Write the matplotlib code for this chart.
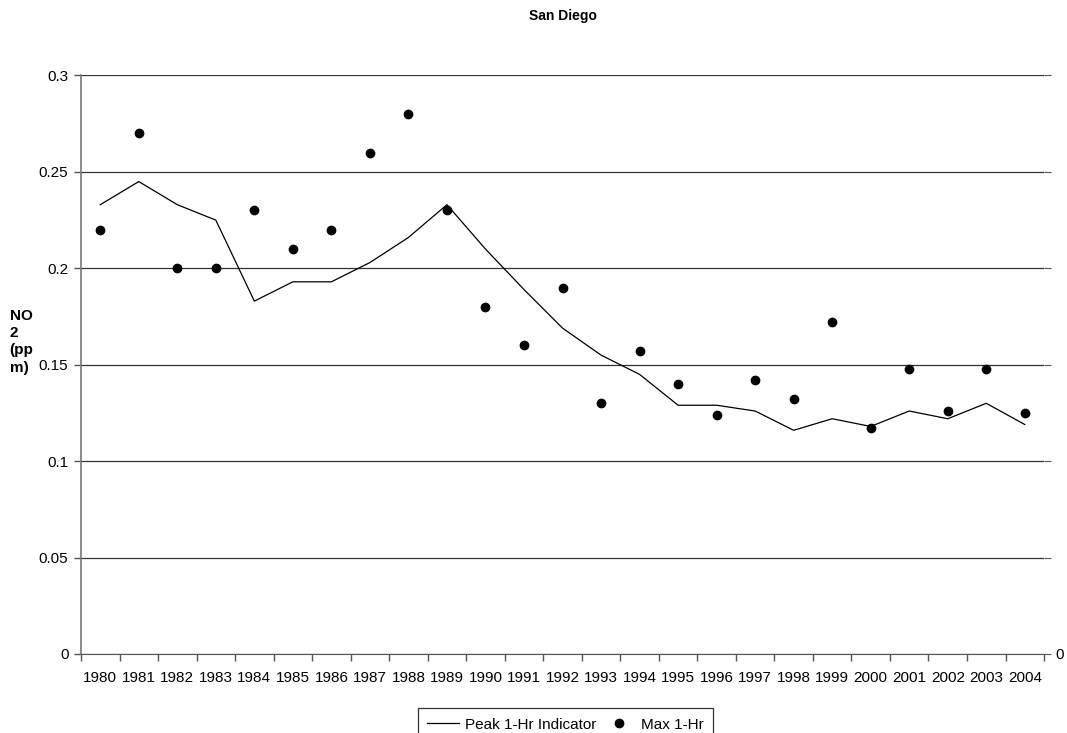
import numpy as np
from matplotlib import pyplot as plt

plt.rcParams['font.family'] = ['Liberation Sans', 'DejaVu Sans']

# data
years = [str(y) for y in range(1980, 2005)]
peak_indicator = [0.233, 0.245, 0.233, 0.225, 0.183, 0.193, 0.193, 0.203, 0.216, 0.233,
                  0.210, 0.189, 0.169, 0.155, 0.145, 0.129, 0.129, 0.126, 0.116, 0.122,
                  0.118, 0.126, 0.122, 0.130, 0.119]
max_1hr = [0.22, 0.27, 0.20, 0.20, 0.23, 0.21, 0.22, 0.26, 0.28, 0.23,
           0.18, 0.16, 0.19, 0.13, 0.157, 0.14, 0.124, 0.142, 0.132, 0.172,
           0.117, 0.148, 0.126, 0.148, 0.125]
y_ticks = [0, 0.05, 0.1, 0.15, 0.2, 0.25, 0.3]
y_tick_labels = ['0', '0.05', '0.1', '0.15', '0.2', '0.25', '0.3']

fig = plt.figure(figsize=(10.67, 7.33), dpi=100)
ax = fig.add_axes((0.0759, 0.1078, 0.9026, 0.7892))

x = np.arange(len(years))
ax.plot(x, peak_indicator, color='black', linewidth=0.9, label='Peak 1-Hr Indicator')
ax.plot(x, max_1hr, linestyle='none', marker='o', markersize=6, color='black', label='Max 1-Hr')

ax.set_xlim(-0.5, len(years) - 0.5)
ax.set_ylim(0, 0.3)

# category labels between tick marks (excel style)
ax.set_xticks(np.arange(-0.5, len(years)), [''] * (len(years) + 1))
ax.set_xticks(x, years, minor=True)
ax.tick_params(axis='x', which='major', length=5, color='#555555', width=1)
ax.tick_params(axis='x', which='minor', length=0, pad=12, labelsize=11)

ax.set_yticks(y_ticks, y_tick_labels)
ax.tick_params(axis='y', length=5, color='#555555', width=1, labelsize=11, pad=4)
ax.grid(axis='y', color='#333333', linewidth=0.9)
ax.set_axisbelow(True)

for s in ['top', 'right']:
    ax.spines[s].set_visible(False)
ax.spines['left'].set_color('#777777')
ax.spines['bottom'].set_color('#555555')
ax.spines['left'].set_linewidth(1.2)

# right axis only shows 0
ax2 = ax.twinx()
ax2.set_ylim(0, 0.3)
ax2.set_yticks(y_ticks, ['0', '', '', '', '', '', ''])
ax2.tick_params(axis='y', length=5, color='#555555', labelsize=11)
for s in ax2.spines.values():
    s.set_visible(False)

ax.set_title('San Diego', fontsize=10, fontweight='bold', pad=40)
fig.text(0.009, 0.534, 'NO\n2\n(pp\nm)', fontsize=11, fontweight='bold',
         ha='left', va='center', linespacing=1.3)

# legend box runs off the bottom edge like the original
leg = fig.legend(loc='lower center', bbox_to_anchor=(0.530, -0.021), ncol=2,
                 fontsize=11, frameon=True, fancybox=False, handlelength=2.1,
                 handletextpad=0.4, columnspacing=0.45, borderpad=0.6)
leg.get_frame().set_edgecolor('black')
leg.get_frame().set_linewidth(0.9)

fig.savefig('out.png', dpi=100)
